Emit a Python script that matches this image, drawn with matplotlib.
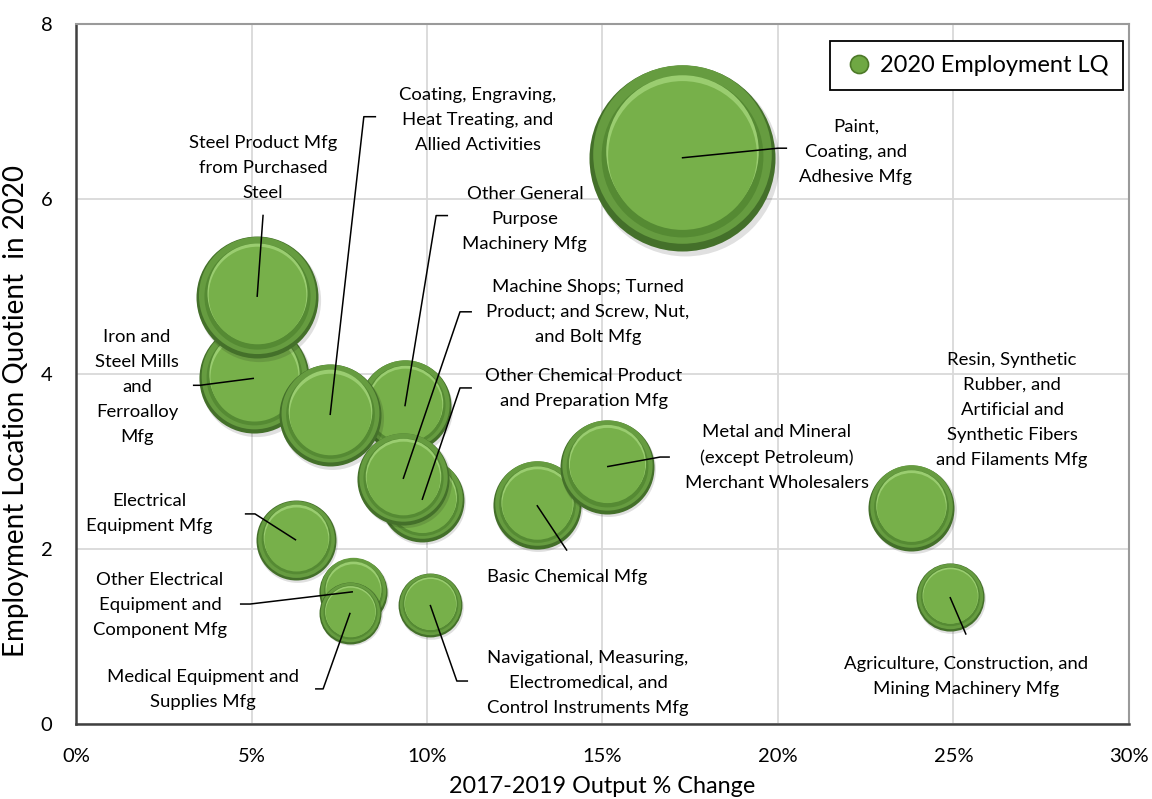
import numpy as np
import matplotlib
matplotlib.use('Agg')
import matplotlib.pyplot as plt
import matplotlib.transforms as mtransforms
from matplotlib.lines import Line2D
from matplotlib.ticker import FuncFormatter

plt.rcParams['font.family'] = ['Lato', 'DejaVu Sans']

# industries, in drawing order (later ones sit on top)
industries = [
    'Iron and\nSteel Mills\nand\nFerroalloy\nMfg',
    'Steel Product Mfg\nfrom Purchased\nSteel',
    'Other General\nPurpose\nMachinery Mfg',
    'Coating, Engraving,\nHeat Treating, and\nAllied Activities',
    'Other Chemical Product\nand Preparation Mfg',
    'Machine Shops; Turned\nProduct; and Screw, Nut,\nand Bolt Mfg',
    'Electrical\nEquipment Mfg',
    'Other Electrical\nEquipment and\nComponent Mfg',
    'Medical Equipment and\nSupplies Mfg',
    'Navigational, Measuring,\nElectromedical, and\nControl Instruments Mfg',
    'Basic Chemical Mfg',
    'Metal and Mineral\n(except Petroleum)\nMerchant Wholesalers',
    'Paint,\nCoating, and\nAdhesive Mfg',
    'Resin, Synthetic\nRubber, and\nArtificial and\nSynthetic Fibers\nand Filaments Mfg',
    'Agriculture, Construction, and\nMining Machinery Mfg',
]
output_change = [5.07, 5.16, 9.37, 7.24, 9.86, 9.32, 6.27, 7.89, 7.81, 10.09,
                 13.13, 15.13, 17.26, 23.8, 24.9]
employment_lq = [3.95, 4.88, 3.63, 3.53, 2.56, 2.80, 2.10, 1.51, 1.27, 1.36,
                 2.50, 2.94, 6.47, 2.47, 1.45]
bubble_size = [30.3, 37.2, 21.2, 26.0, 17.6, 21.2, 16.0, 11.6, 9.6, 10.2,
               19.4, 22.1, 86.5, 18.5, 11.6]

x_ticks = [0, 5, 10, 15, 20, 25, 30]
y_ticks = [0, 2, 4, 6, 8]

# label layout: text centre, then leader points (label end -> elbow), None = no leader
label_pos = [(1.74, 3.85), (5.33, 6.35), (12.79, 5.77), (11.45, 6.90), (14.47, 3.83),
             (14.59, 4.71), (2.10, 2.40), (2.39, 1.36), (3.62, 0.39), (14.59, 0.47),
             (13.99, 1.68), (19.97, 3.04), (22.22, 6.54), (26.67, 3.59), (25.36, 0.54)]
leaders = [
    [(3.33, 3.87), (3.53, 3.87)],
    [(5.33, 5.82)],
    [(10.60, 5.81), (10.26, 5.81)],
    [(8.55, 6.94), (8.20, 6.94)],
    [(11.28, 3.84), (10.94, 3.84)],
    [(11.28, 4.71), (10.94, 4.71)],
    [(4.81, 2.40), (5.10, 2.40)],
    [(4.67, 1.37), (4.96, 1.37)],
    [(6.81, 0.40), (7.04, 0.40)],
    [(11.17, 0.49), (10.85, 0.49)],
    [(13.99, 1.98)],
    [(16.92, 3.05), (16.64, 3.05)],
    [(20.26, 6.58), (20.00, 6.58)],
    None,
    [(25.36, 1.02)],
]

DPI = 100
fig = plt.figure(figsize=(11.52, 7.99), dpi=DPI)
ax = fig.add_axes([0.066, 0.094, 0.914, 0.876])

ax.set_xlim(0, 30)
ax.set_ylim(0, 8)
ax.set_xticks(x_ticks)
ax.set_yticks(y_ticks)
ax.xaxis.set_major_formatter(FuncFormatter(lambda v, p: '%d%%' % v))
ax.grid(True, color='#d9d9d9', linewidth=1.3, zorder=0)
ax.set_axisbelow(True)
ax.tick_params(length=0, labelsize=14.5, colors='#000000')
ax.tick_params(axis='x', pad=17)
ax.tick_params(axis='y', pad=17)
for s in ['left', 'bottom']:
    ax.spines[s].set_color('#404040')
    ax.spines[s].set_linewidth(1.8)
for s in ['top', 'right']:
    ax.spines[s].set_color('#9a9a9a')
    ax.spines[s].set_linewidth(1.5)

ax.set_xlabel('2017-2019 Output % Change', fontsize=16.8)
ax.xaxis.set_label_coords(0.5, -0.074)
ax.set_ylabel('Employment Location Quotient  in 2020', fontsize=20)
ax.yaxis.set_label_coords(-0.045, 0.447)

# bubble layers: (radius fraction, dy fraction, dx fraction, colour, alpha)
layers = [
    (1.01, -0.05, 0.03, '#000000', 0.12),
    (1.00, 0.00, 0.0, '#44702a', 1.0),
    (0.96, 0.04, 0.0, '#669c40', 1.0),
    (0.87, 0.02, 0.0, '#558a33', 1.0),
    (0.82, 0.07, 0.0, '#9acd70', 1.0),
    (0.80, 0.03, 0.0, '#77b04a', 1.0),
]

for i, (x, y, sz) in enumerate(zip(output_change, employment_lq, bubble_size)):
    r_pt = 10 * np.sqrt(sz) * 72.0 / DPI
    for j, (rf, dyf, dxf, col, al) in enumerate(layers):
        tr = mtransforms.offset_copy(ax.transData, fig=fig, x=dxf * r_pt,
                                     y=dyf * r_pt, units='points')
        ax.scatter([x], [y], s=(2 * rf * r_pt) ** 2, color=col, alpha=al,
                   linewidths=0, transform=tr, zorder=2 + i * 0.02 + j * 0.002)

# leader lines and labels
for i, name in enumerate(industries):
    lx, ly = label_pos[i]
    ax.text(lx, ly, name, ha='center', va='center', fontsize=13.3,
            linespacing=1.69, zorder=5)
    if leaders[i] is None:
        continue
    pts = leaders[i] + [(output_change[i], employment_lq[i])]
    xs = [p[0] for p in pts]
    ys = [p[1] for p in pts]
    ax.plot(xs, ys, color='#000000', linewidth=1.1, zorder=4.5,
            solid_capstyle='butt')

# legend
proxy = Line2D([], [], linestyle='none', marker='o', markersize=13,
               markerfacecolor='#6fa843', markeredgecolor='#4d7a29',
               markeredgewidth=1.2)
leg = ax.legend([proxy], ['2020 Employment LQ'], loc='upper right',
                bbox_to_anchor=(0.994, 0.976), borderaxespad=0, fancybox=False,
                framealpha=1, edgecolor='#000000', fontsize=17,
                handletextpad=0.3, handlelength=1.2, borderpad=0.6)
leg.get_frame().set_linewidth(1.3)
leg.set_zorder(6)

fig.savefig('out.png', dpi=DPI)
